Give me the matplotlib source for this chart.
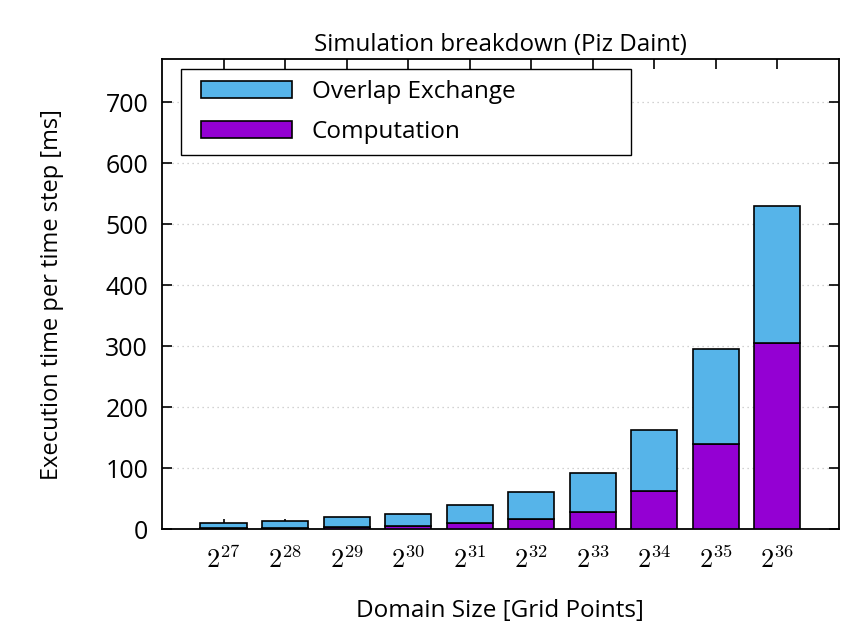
import matplotlib
matplotlib.use("Agg")
import matplotlib.pyplot as plt
from matplotlib.patches import Rectangle
from matplotlib.container import BarContainer
from matplotlib.legend_handler import HandlerPatch, update_from_first_child

plt.rcParams["font.family"] = ["Open Sans", "DejaVu Sans"]
plt.rcParams["mathtext.fontset"] = "cm"

# Domain sizes as powers of two
exponents = [27, 28, 29, 30, 31, 32, 33, 34, 35, 36]
tick_labels = [f"$2^{{\\mathsf{{{e}}}}}$" for e in exponents]

# Execution time per time step [ms]
computation = [1.5, 2, 4, 5.5, 10, 17.5, 29, 63, 140, 305]
total = [10, 13, 20.5, 25, 40.5, 61.5, 92.5, 162.5, 295, 529]
overlap_exchange = [t - c for t, c in zip(total, computation)]

fig = plt.figure(figsize=(8.67, 6.23), dpi=100)
ax = fig.add_axes([0.1869, 0.1504, 0.7805, 0.7544])

x = list(range(len(exponents)))
width = 0.75
ax.bar(x, computation, width, color="#9400D3", edgecolor="black",
       linewidth=1.2, label="Computation", zorder=3)
ax.bar(x, overlap_exchange, width, bottom=computation, color="#56B4E9",
       edgecolor="black", linewidth=1.2, label="Overlap Exchange", zorder=3)

ax.set_xlim(-1, 10)
ax.set_ylim(0, 770)
ax.set_xticks(x)
ax.set_xticklabels(tick_labels, fontsize=19)
ax.set_yticks(range(0, 701, 100))
ax.tick_params(axis="both", direction="in", length=7, width=1.2,
               top=True, right=True)
ax.tick_params(axis="y", pad=10, labelsize=18)
ax.tick_params(axis="x", pad=13)
for sp in ax.spines.values():
    sp.set_linewidth(1.3)

# horizontal dotted grid
for yv in range(100, 701, 100):
    ax.axhline(yv, color="#c4c4c4", linestyle=(0, (1, 3)), linewidth=0.9,
               zorder=1)

ax.set_title("Simulation breakdown (Piz Daint)", fontsize=17.4, pad=6)
ax.set_xlabel("Domain Size [Grid Points]", fontsize=17.5, labelpad=18)
ax.set_ylabel("Execution time per time step [ms]", fontsize=17, labelpad=30)


def inset_swatch(legend, orig_handle, xdescent, ydescent, width, height,
                 fontsize):
    # leave a small gap between the frame and the colour swatch
    gap = 0.37 * fontsize
    return Rectangle((-xdescent + gap, -ydescent), width - gap, height)


bar_handler = HandlerPatch(patch_func=inset_swatch,
                           update_func=update_from_first_child)

handles, labels = ax.get_legend_handles_labels()
leg = ax.legend(handles[::-1], labels[::-1], loc="upper left",
                bbox_to_anchor=(0.028, 0.979, 0.665, 0.0), mode="expand",
                fontsize=17.5, frameon=True, fancybox=False, framealpha=1,
                edgecolor="black", handlelength=4.1, handleheight=0.7,
                handletextpad=0.82, labelspacing=0.65, borderpad=0.45,
                borderaxespad=0.0,
                handler_map={BarContainer: bar_handler})
leg.get_frame().set_linewidth(1.0)
leg.set_zorder(5)

fig.savefig("out.png", dpi=100)
